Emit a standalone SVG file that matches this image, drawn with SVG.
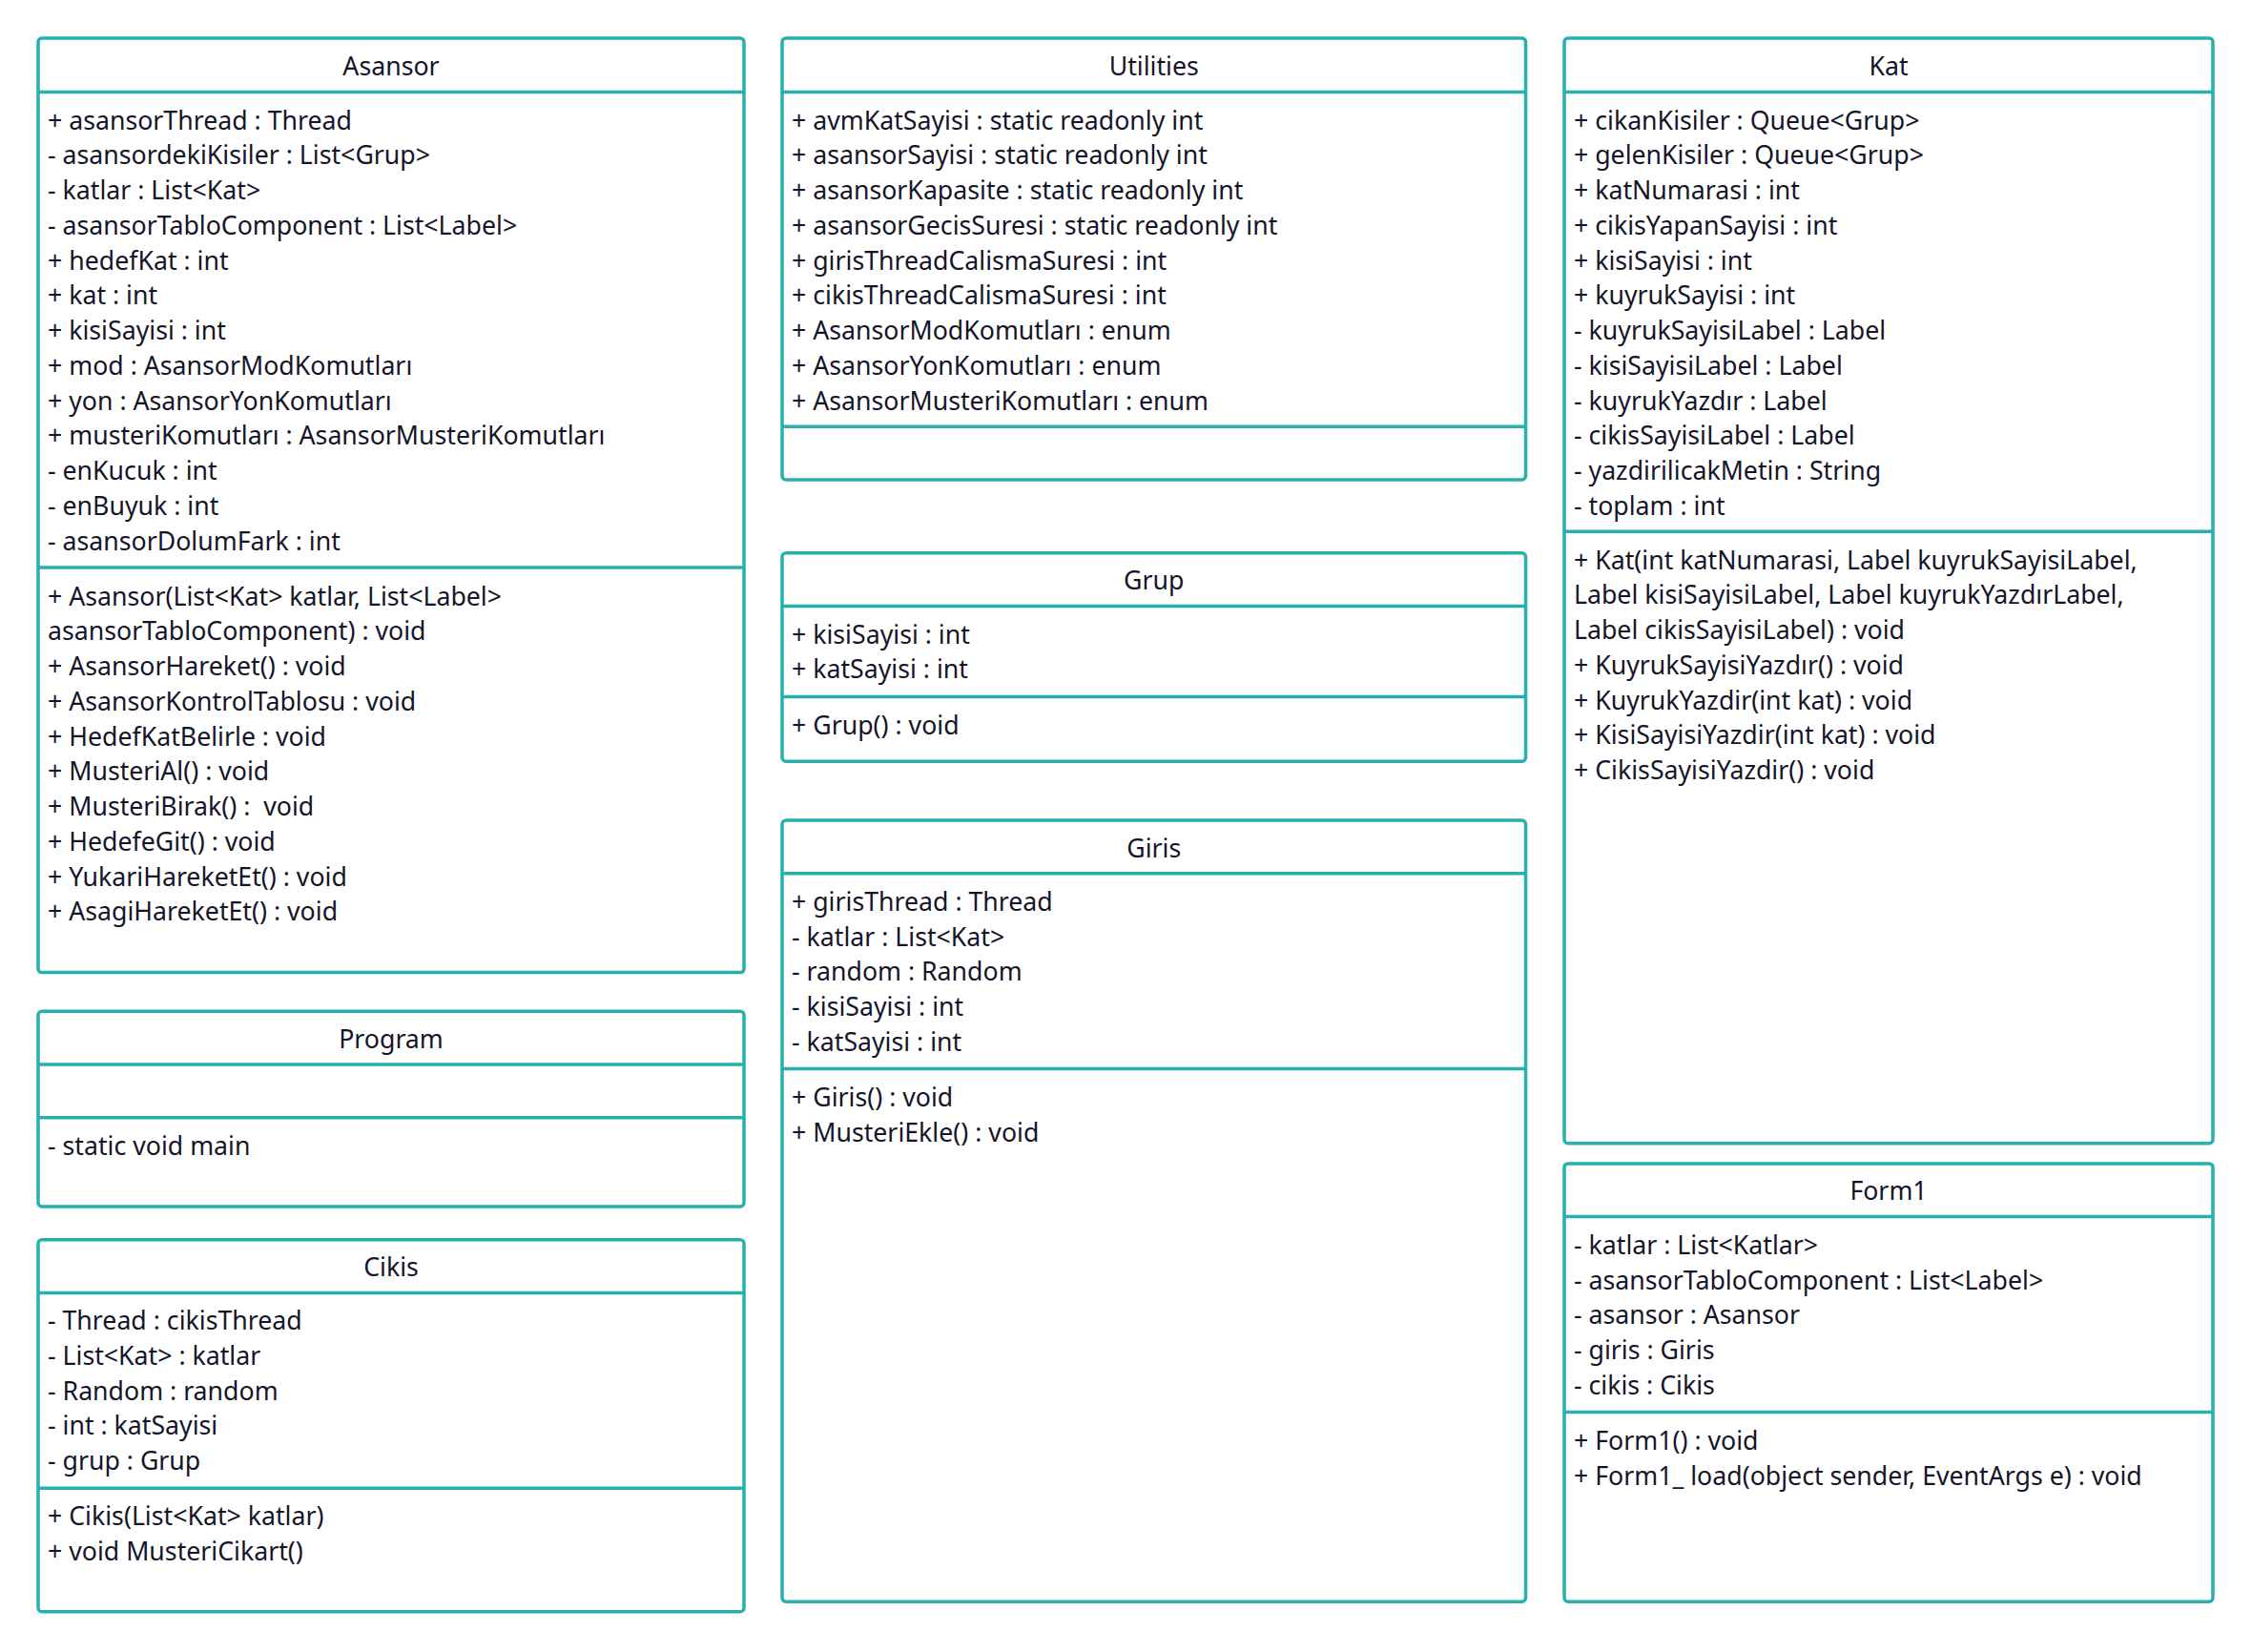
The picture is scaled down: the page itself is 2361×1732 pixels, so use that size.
<svg xmlns="http://www.w3.org/2000/svg" width="2361" height="1732" viewBox="0 0 2361 1732">
  <style>
    .box { fill: #ffffff; stroke: #28b0ac; stroke-width: 3.5; }
    .sep { stroke: #28b0ac; stroke-width: 3.5; }
    text { font-family: "Noto Sans", "Open Sans", sans-serif; font-size: 26.7px; fill: #15152a; white-space: pre; }
    .title { text-anchor: middle; }
  </style>
  <rect x="0" y="0" width="2361" height="1732" fill="#ffffff"/>

  <!-- Column 1 -->
  <g id="asansor">
    <rect class="box" x="40" y="40" width="740" height="979.6" rx="4"/>
    <line class="sep" x1="40" y1="96.5" x2="780" y2="96.5"/>
    <line class="sep" x1="40" y1="595" x2="780" y2="595"/>
    <text class="title" x="410" y="78.5">Asansor</text>
    <text x="50" y="135.7">+ asansorThread : Thread</text>
    <text x="50" y="172.45">- asansordekiKisiler : List&lt;Grup&gt;</text>
    <text x="50" y="209.2">- katlar : List&lt;Kat&gt;</text>
    <text x="50" y="245.95">- asansorTabloComponent : List&lt;Label&gt;</text>
    <text x="50" y="282.7">+ hedefKat : int</text>
    <text x="50" y="319.45">+ kat : int</text>
    <text x="50" y="356.2">+ kisiSayisi : int</text>
    <text x="50" y="392.95">+ mod : AsansorModKomutları</text>
    <text x="50" y="429.7">+ yon : AsansorYonKomutları</text>
    <text x="50" y="466.45">+ musteriKomutları : AsansorMusteriKomutları</text>
    <text x="50" y="503.2">- enKucuk : int</text>
    <text x="50" y="539.95">- enBuyuk : int</text>
    <text x="50" y="576.7">- asansorDolumFark : int</text>
    <text x="50" y="634.5">+ Asansor(List&lt;Kat&gt; katlar, List&lt;Label&gt;</text>
    <text x="50" y="671.25">asansorTabloComponent) : void</text>
    <text x="50" y="708">+ AsansorHareket() : void</text>
    <text x="50" y="744.75">+ AsansorKontrolTablosu : void</text>
    <text x="50" y="781.5">+ HedefKatBelirle : void</text>
    <text x="50" y="818.25">+ MusteriAl() : void</text>
    <text x="50" y="855">+ MusteriBirak() :  void</text>
    <text x="50" y="891.75">+ HedefeGit() : void</text>
    <text x="50" y="928.5">+ YukariHareketEt() : void</text>
    <text x="50" y="965.25">+ AsagiHareketEt() : void</text>
  </g>

  <g id="program">
    <rect class="box" x="40" y="1060.2" width="740" height="204.8" rx="4"/>
    <line class="sep" x1="40" y1="1116" x2="780" y2="1116"/>
    <line class="sep" x1="40" y1="1171.7" x2="780" y2="1171.7"/>
    <text class="title" x="410" y="1098.5">Program</text>
    <text x="50" y="1210.5">- static void main</text>
  </g>

  <g id="cikis">
    <rect class="box" x="40" y="1299.7" width="740" height="390.1" rx="4"/>
    <line class="sep" x1="40" y1="1355.5" x2="780" y2="1355.5"/>
    <line class="sep" x1="40" y1="1560.3" x2="780" y2="1560.3"/>
    <text class="title" x="410" y="1338">Cikis</text>
    <text x="50" y="1394.2">- Thread : cikisThread</text>
    <text x="50" y="1430.95">- List&lt;Kat&gt; : katlar</text>
    <text x="50" y="1467.7">- Random : random</text>
    <text x="50" y="1504.45">- int : katSayisi</text>
    <text x="50" y="1541.2">- grup : Grup</text>
    <text x="50" y="1599.3">+ Cikis(List&lt;Kat&gt; katlar)</text>
    <text x="50" y="1636.05">+ void MusteriCikart()</text>
  </g>

  <!-- Column 2 -->
  <g id="utilities">
    <rect class="box" x="820" y="40" width="779.5" height="463" rx="4"/>
    <line class="sep" x1="820" y1="96.5" x2="1599.5" y2="96.5"/>
    <line class="sep" x1="820" y1="447.3" x2="1599.5" y2="447.3"/>
    <text class="title" x="1209.75" y="78.5">Utilities</text>
    <text x="830" y="135.7">+ avmKatSayisi : static readonly int</text>
    <text x="830" y="172.45">+ asansorSayisi : static readonly int</text>
    <text x="830" y="209.2">+ asansorKapasite : static readonly int</text>
    <text x="830" y="245.95">+ asansorGecisSuresi : static readonly int</text>
    <text x="830" y="282.7">+ girisThreadCalismaSuresi : int</text>
    <text x="830" y="319.45">+ cikisThreadCalismaSuresi : int</text>
    <text x="830" y="356.2">+ AsansorModKomutları : enum</text>
    <text x="830" y="392.95">+ AsansorYonKomutları : enum</text>
    <text x="830" y="429.7">+ AsansorMusteriKomutları : enum</text>
  </g>

  <g id="grup">
    <rect class="box" x="820" y="579.8" width="779.5" height="218.4" rx="4"/>
    <line class="sep" x1="820" y1="635.5" x2="1599.5" y2="635.5"/>
    <line class="sep" x1="820" y1="730.4" x2="1599.5" y2="730.4"/>
    <text class="title" x="1209.75" y="618.3">Grup</text>
    <text x="830" y="674.7">+ kisiSayisi : int</text>
    <text x="830" y="711.45">+ katSayisi : int</text>
    <text x="830" y="769.9">+ Grup() : void</text>
  </g>

  <g id="giris">
    <rect class="box" x="820" y="860" width="779.5" height="819.2" rx="4"/>
    <line class="sep" x1="820" y1="915.7" x2="1599.5" y2="915.7"/>
    <line class="sep" x1="820" y1="1120.5" x2="1599.5" y2="1120.5"/>
    <text class="title" x="1209.75" y="898.5">Giris</text>
    <text x="830" y="954.9">+ girisThread : Thread</text>
    <text x="830" y="991.65">- katlar : List&lt;Kat&gt;</text>
    <text x="830" y="1028.4">- random : Random</text>
    <text x="830" y="1065.15">- kisiSayisi : int</text>
    <text x="830" y="1101.9">- katSayisi : int</text>
    <text x="830" y="1160">+ Giris() : void</text>
    <text x="830" y="1196.75">+ MusteriEkle() : void</text>
  </g>

  <!-- Column 3 -->
  <g id="kat">
    <rect class="box" x="1640" y="40" width="680" height="1158.8" rx="4"/>
    <line class="sep" x1="1640" y1="96.5" x2="2320" y2="96.5"/>
    <line class="sep" x1="1640" y1="557.2" x2="2320" y2="557.2"/>
    <text class="title" x="1980" y="78.5">Kat</text>
    <text x="1650" y="135.7">+ cikanKisiler : Queue&lt;Grup&gt;</text>
    <text x="1650" y="172.45">+ gelenKisiler : Queue&lt;Grup&gt;</text>
    <text x="1650" y="209.2">+ katNumarasi : int</text>
    <text x="1650" y="245.95">+ cikisYapanSayisi : int</text>
    <text x="1650" y="282.7">+ kisiSayisi : int</text>
    <text x="1650" y="319.45">+ kuyrukSayisi : int</text>
    <text x="1650" y="356.2">- kuyrukSayisiLabel : Label</text>
    <text x="1650" y="392.95">- kisiSayisiLabel : Label</text>
    <text x="1650" y="429.7">- kuyrukYazdır : Label</text>
    <text x="1650" y="466.45">- cikisSayisiLabel : Label</text>
    <text x="1650" y="503.2">- yazdirilicakMetin : String</text>
    <text x="1650" y="539.95">- toplam : int</text>
    <text x="1650" y="596.7">+ Kat(int katNumarasi, Label kuyrukSayisiLabel,</text>
    <text x="1650" y="633.45">Label kisiSayisiLabel, Label kuyrukYazdırLabel,</text>
    <text x="1650" y="670.2">Label cikisSayisiLabel) : void</text>
    <text x="1650" y="706.95">+ KuyrukSayisiYazdır() : void</text>
    <text x="1650" y="743.7">+ KuyrukYazdir(int kat) : void</text>
    <text x="1650" y="780.45">+ KisiSayisiYazdir(int kat) : void</text>
    <text x="1650" y="817.2">+ CikisSayisiYazdir() : void</text>
  </g>

  <g id="form1">
    <rect class="box" x="1640" y="1219.9" width="680" height="459.3" rx="4"/>
    <line class="sep" x1="1640" y1="1275.6" x2="2320" y2="1275.6"/>
    <line class="sep" x1="1640" y1="1480.4" x2="2320" y2="1480.4"/>
    <text class="title" x="1980" y="1258.4">Form1</text>
    <text x="1650" y="1314.9">- katlar : List&lt;Katlar&gt;</text>
    <text x="1650" y="1351.65">- asansorTabloComponent : List&lt;Label&gt;</text>
    <text x="1650" y="1388.4">- asansor : Asansor</text>
    <text x="1650" y="1425.15">- giris : Giris</text>
    <text x="1650" y="1461.9">- cikis : Cikis</text>
    <text x="1650" y="1519.9">+ Form1() : void</text>
    <text x="1650" y="1556.65">+ Form1_ load(object sender, EventArgs e) : void</text>
  </g>

  <!-- No relationships are drawn between the classes -->
  <g id="connectors"/>
</svg>
